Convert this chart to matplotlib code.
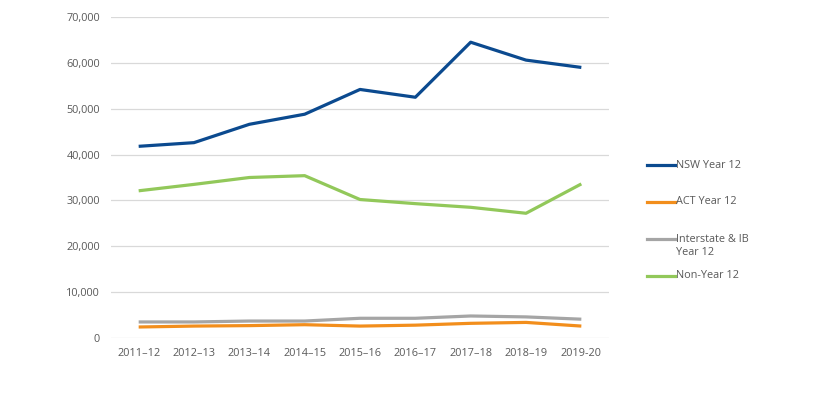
import matplotlib
matplotlib.use("Agg")
import matplotlib.pyplot as plt
from matplotlib.lines import Line2D

years = ["2011–12", "2012–13", "2013–14", "2014–15", "2015–16", "2016–17", "2017–18", "2018–19", "2019-20"]
nsw = [41800, 42600, 46600, 48800, 54200, 52500, 64500, 60600, 59000]
act = [2400, 2600, 2700, 2900, 2600, 2800, 3200, 3400, 2600]
interstate = [3500, 3500, 3700, 3700, 4300, 4300, 4800, 4600, 4100]
non_y12 = [32100, 33500, 35000, 35400, 30200, 29300, 28500, 27200, 33600]

labels = ["NSW Year 12", "ACT Year 12", "Interstate & IB\nYear 12", "Non-Year 12"]
colors = ["#0B4A8F", "#F28E1C", "#A5A5A5", "#92C85A"]
series = [nsw, act, interstate, non_y12]

plt.rcParams['font.family'] = ['Open Sans', 'DejaVu Sans']
fig = plt.figure(figsize=(8.29, 3.95), dpi=100)
ax = fig.add_axes([111/829, 57/395, 498/829, 321/395])

x = list(range(len(years)))
for s, c in zip(series, colors):
    ax.plot(x, s, color=c, lw=2.3, solid_capstyle='butt', solid_joinstyle='round')

ax.set_xlim(-0.5, len(years) - 0.5)
ax.set_ylim(0, 70000)
ax.set_yticks(range(0, 70001, 10000))
ax.set_yticklabels([f"{v:,}" for v in range(0, 70001, 10000)])
ax.set_xticks(x)
ax.set_xticklabels(years)
ax.grid(axis='y', color='#D9D9D9', lw=0.9)
ax.set_axisbelow(True)
for sp in ax.spines.values():
    sp.set_visible(False)
ax.tick_params(length=0, labelsize=7.8, colors='#595959', pad=7)
ax.tick_params(axis='y', pad=8)

# legend (manual)
ys = [165, 202, 239, 276]
for lab, c, yy in zip(labels, colors, ys):
    yf = 1 - yy / 395
    fig.add_artist(Line2D([647/829, 675/829], [yf, yf], color=c, lw=2.3, transform=fig.transFigure))
    if '\n' in lab:
        yf = 1 - (yy + 7) / 395
    fig.text(676/829, yf, lab, color='#595959', fontsize=7.8, va='center',
             ha='left', linespacing=1.3)

fig.savefig("out.png", dpi=100, facecolor='white')
